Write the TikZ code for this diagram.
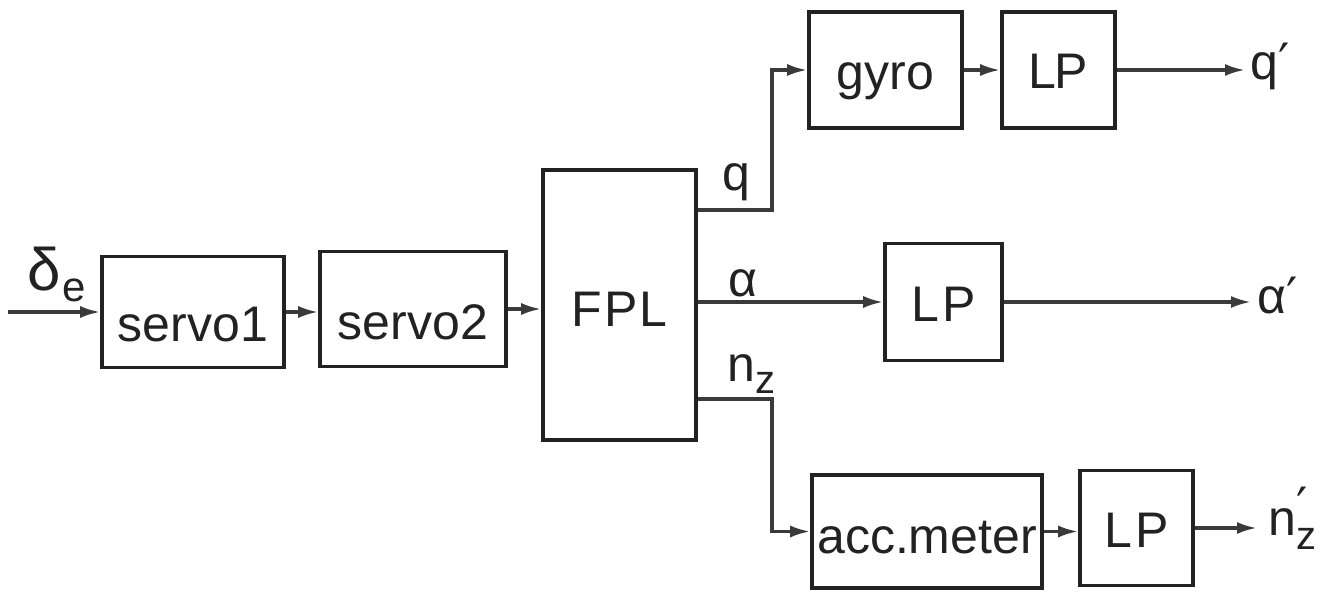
\documentclass[tikz,border=0pt]{standalone}
\usepackage{fontspec}
\setmainfont{Liberation Sans}
\newfontfamily\dv{DejaVu Sans}
\usetikzlibrary{arrows.meta}
\definecolor{ink}{HTML}{222222}
\definecolor{wire}{HTML}{3A3A3A}
\begin{document}
\begin{tikzpicture}[x=1pt,y=-1pt,
  blk/.style={draw=ink, line width=3.6pt, inner sep=0pt, font=\fontsize{50}{60}\selectfont, text=ink, text depth=0pt},
  lbl/.style={inner sep=0pt, font=\fontsize{50}{60}\selectfont, text=ink},
  arr/.style={draw=wire, line width=3.2pt, -{Latex[length=20pt,width=12pt]}},
  wire/.style={draw=wire, line width=3.2pt}]
\useasboundingbox[fill=white] (0,0) rectangle (1327,596);

% blocks
\node[blk, text height=58pt, minimum width=182pt, minimum height=111pt] (s1) at (193,312) {servo1};
\node[blk, text height=60pt, minimum width=186pt, minimum height=115pt] (s2) at (413,309) {servo2};
\node[blk, text height=42pt, minimum width=153pt, minimum height=270pt] (fpl) at (619.5,305) {F\kern2pt P\kern2pt L};
\node[blk, text height=40pt, minimum width=153pt, minimum height=116pt] (gyro) at (885.5,70) {gyro};
\node[blk, text height=38pt, minimum width=113pt, minimum height=116pt] (lpa) at (1058.5,70) {L\kern-2pt P};
\node[blk, text height=38pt, minimum width=117pt, minimum height=117pt] (lpb) at (943.5,302) {L\kern3pt P};
\node[blk, text height=44pt, minimum width=230pt, minimum height=113pt] (acc) at (927,531.5) {acc.meter};
\node[blk, text height=38pt, minimum width=113pt, minimum height=115pt] (lpc) at (1136.5,528) {L\kern3pt P};

% input
\coordinate (in) at (8,312);
\draw[arr] (in) -- (s1.west);
\node[lbl, anchor=base west] (de) at (27,290) {{\fontsize{60}{60}\selectfont δ}\kern2pt\raisebox{-11pt}{\fontsize{42}{42}\selectfont e}};

% chain
\draw[arr] (s1.east) -- (s1.east -| s2.west);
\draw[arr] (s2.east) -- (s2.east -| fpl.west);

% FPL outputs
\coordinate (qk) at (772,210);
\coordinate (nk) at (772,399);
\draw[arr] (fpl.east |- qk) -- (qk) |- (gyro.west);
\draw[arr] (fpl.east |- lpb.west) -- (lpb.west);
\draw[arr] (fpl.east |- nk) -- (nk) |- (acc.west);

\node[lbl, anchor=base] (ql) at (736,190) {q};
\node[lbl, anchor=base] (al) at (743,296) {α};
\node[lbl, anchor=base west] (nl) at (727,381) {n\raisebox{-12pt}{\fontsize{40}{40}\selectfont z}};

% second stage
\draw[arr] (gyro.east) -- (lpa.west);
\draw[arr] (acc.east) -- (acc.east -| lpc.west);

% outputs
\coordinate (qe) at (1245,70);
\coordinate (ae) at (1251,302);
\coordinate (ne) at (1257,528);
\draw[arr] (lpa.east) -- (qe);
\draw[arr] (lpb.east) -- (ae);
\draw[arr] (lpc.east) -- (ne);

\node[lbl, anchor=base west] (qp) at (1250,80) {q{\dv ′}};
\node[lbl, anchor=base west] (ap) at (1257,313) {α{\dv ′}};
\node[lbl, anchor=base west] (np) at (1268,535) {n\rlap{\raisebox{12pt}{\dv ′}}\raisebox{-14pt}{\fontsize{40}{40}\selectfont z}};
\end{tikzpicture}
\end{document}
